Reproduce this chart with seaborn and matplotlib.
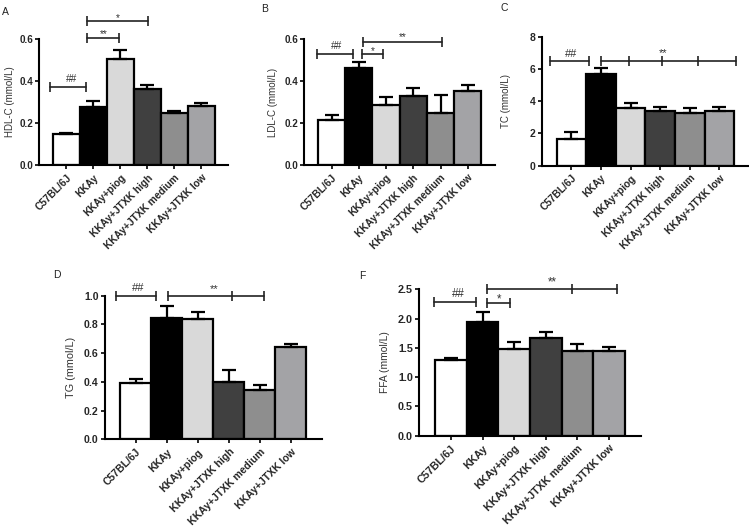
import numpy as np
import pandas as pd
import matplotlib
matplotlib.use("Agg")
import matplotlib.pyplot as plt
import seaborn as sns

# ---------------- data ----------------
groups = ["C57BL/6J", "KKAy", "KKAy+piog", "KKAy+JTXK high", "KKAy+JTXK medium", "KKAy+JTXK low"]
colors = ["#ffffff", "#000000", "#d9d9d9", "#404040", "#8e8e8e", "#a2a2a7"]

hdl_mean = [0.146, 0.278, 0.506, 0.360, 0.246, 0.283]
hdl_err = [0.008, 0.027, 0.042, 0.023, 0.013, 0.014]
ldl_mean = [0.214, 0.462, 0.287, 0.330, 0.246, 0.354]
ldl_err = [0.026, 0.030, 0.037, 0.037, 0.089, 0.027]
tc_mean = [1.65, 5.67, 3.57, 3.38, 3.28, 3.36]
tc_err = [0.43, 0.39, 0.29, 0.25, 0.29, 0.27]
tg_mean = [0.390, 0.842, 0.835, 0.401, 0.343, 0.640]
tg_err = [0.028, 0.086, 0.047, 0.079, 0.038, 0.024]
ffa_mean = [1.293, 1.948, 1.475, 1.663, 1.441, 1.441]
ffa_err = [0.027, 0.172, 0.131, 0.102, 0.131, 0.074]

ylabels = ["HDL-C (mmol/L)", "LDL-C (mmol/L)", "TC (mmol/L)", "TG (mmol/L)", "FFA (mmol/L)"]
panel_letters = ["A", "B", "C", "D", "F"]
yticks_list = [[0.0, 0.2, 0.4, 0.6], [0.0, 0.2, 0.4, 0.6], [0, 2, 4, 6, 8],
               [0.0, 0.2, 0.4, 0.6, 0.8, 1.0], [0.0, 0.5, 1.0, 1.5, 2.0, 2.5]]
ytick_fmt = ["{:.1f}", "{:.1f}", "{:.0f}", "{:.1f}", "{:.1f}"]

# significance brackets: (x1, x2, y, label, text_x, text baseline offset px, inner ticks)
brackets = [
    [(-0.61, 0.74, 0.373, "##", 0.18, 5.0, []),
     (0.78, 1.95, 0.605, "**", 1.37, 0.5, []),
     (0.78, 3.01, 0.684, "*", 1.90, 0.3, [])],
    [(-0.55, 0.78, 0.529, "##", 0.19, 4.5, []),
     (1.11, 1.88, 0.529, "*", 1.53, -0.5, []),
     (1.14, 4.05, 0.584, "**", 2.60, 2.5, [])],
    [(-0.73, 0.60, 6.49, "##", 0.0, 4.0, []),
     (1.00, 5.56, 6.49, "**", 3.10, 5.0, [1.96, 3.07, 4.29])],
    [(-0.65, 0.66, 1.0, "##", 0.08, 4.5, []),
     (1.04, 4.13, 1.0, "**", 2.53, 3.3, [3.09])],
    [(-0.54, 0.80, 2.29, "##", 0.22, 5.0, []),
     (1.14, 1.88, 2.27, "*", 1.53, 0.3, []),
     (1.14, 5.27, 2.506, "**", 3.22, 3.3, [3.82])],
]

W, H = 749, 528
# axes boxes in pixels: left, top, right, bottom
boxes = [(39.3, 39, 228.5, 165), (304.3, 39, 495, 165), (541.7, 36.7, 749, 165.5),
         (105, 295.5, 322, 439.3), (419.3, 289.3, 640.5, 435.7)]
scale = [1.0, 1.0, 1.08, 1.10, 1.14]
xtick_size = [7.34, 7.34, 7.34, 7.5, 7.75]
ytick_size = [7.1, 7.1, 7.45, 7.6, 7.8]
ylabel_size = [7.0, 7.0, 7.0, 7.8, 7.4]
ylabel_x = [10, 273, 506, 70.5, 385.5]
letter_pos = [(5, 12), (265, 9), (504, 8), (57, 275), (362, 276)]

sns.set_theme(style="ticks")
plt.rcParams["font.family"] = ["Liberation Sans", "DejaVu Sans"]

fig = plt.figure(figsize=(W / 100, H / 100), dpi=100)

means = [hdl_mean, ldl_mean, tc_mean, tg_mean, ffa_mean]
errs = [hdl_err, ldl_err, tc_err, tg_err, ffa_err]

for k in range(5):
    l, t, r, b = boxes[k]
    sc = scale[k]
    ax = fig.add_axes([l / W, (H - b) / H, (r - l) / W, (b - t) / H])
    df = pd.DataFrame({"group": groups, "value": means[k]})
    sns.barplot(data=df, x="group", y="value", hue="group", palette=colors,
                order=groups, hue_order=groups, width=1.0, edgecolor="black",
                linewidth=1.6, legend=False, ax=ax, errorbar=None)
    xs = np.arange(len(groups))
    ax.errorbar(xs, means[k], yerr=[np.zeros(len(groups)), errs[k]], fmt="none",
                ecolor="black", elinewidth=1.6, capsize=4.7 * sc, capthick=1.6, zorder=1)
    ax.set_xlim(-1.0, 6.0)
    yt = yticks_list[k]
    ax.set_ylim(0, yt[-1])
    ax.set_yticks(yt)
    ax.set_yticklabels([ytick_fmt[k].format(v) for v in yt], fontsize=ytick_size[k],
                       fontweight="bold")
    ax.set_xticks(xs)
    ax.set_xticklabels(groups, rotation=45, ha="right", va="top", rotation_mode="anchor",
                       fontsize=xtick_size[k], fontweight="bold")
    ax.set_xlabel("")
    ax.set_ylabel("")
    for s in ["top", "right"]:
        ax.spines[s].set_visible(False)
    for s in ["left", "bottom"]:
        ax.spines[s].set_linewidth(1.5)
        ax.spines[s].set_color("black")
    ax.tick_params(axis="both", length=3, width=1.2, color="black", pad=1.5)
    ax.tick_params(axis="x", pad=2.5)
    ax.patch.set_alpha(0)

    for (x1, x2, y, lab, tx, off, inner) in brackets[k]:
        ax.plot([x1, x2], [y, y], color="#222222", lw=1.2, clip_on=False, zorder=5)
        ax.plot([x1, x2] + inner, [y] * (2 + len(inner)), ls="none", marker="|",
                ms=6.5, mew=1.2, color="#222222", clip_on=False, zorder=5)
        ax.annotate(lab, xy=(tx, y), xytext=(0, off * 0.72), textcoords="offset points",
                    ha="center", va="baseline", fontsize=7.3 * sc, color="#333333",
                    annotation_clip=False)

    fig.text(ylabel_x[k] / W, 1 - ((t + b) / 2) / H, ylabels[k], rotation=90,
             ha="center", va="center", fontsize=ylabel_size[k], color="#333333")
    lx, ly = letter_pos[k]
    fig.text(lx / W, 1 - ly / H, panel_letters[k], ha="center", va="center",
             fontsize=7.5, color="#222222")

fig.savefig("out.png", dpi=100)
